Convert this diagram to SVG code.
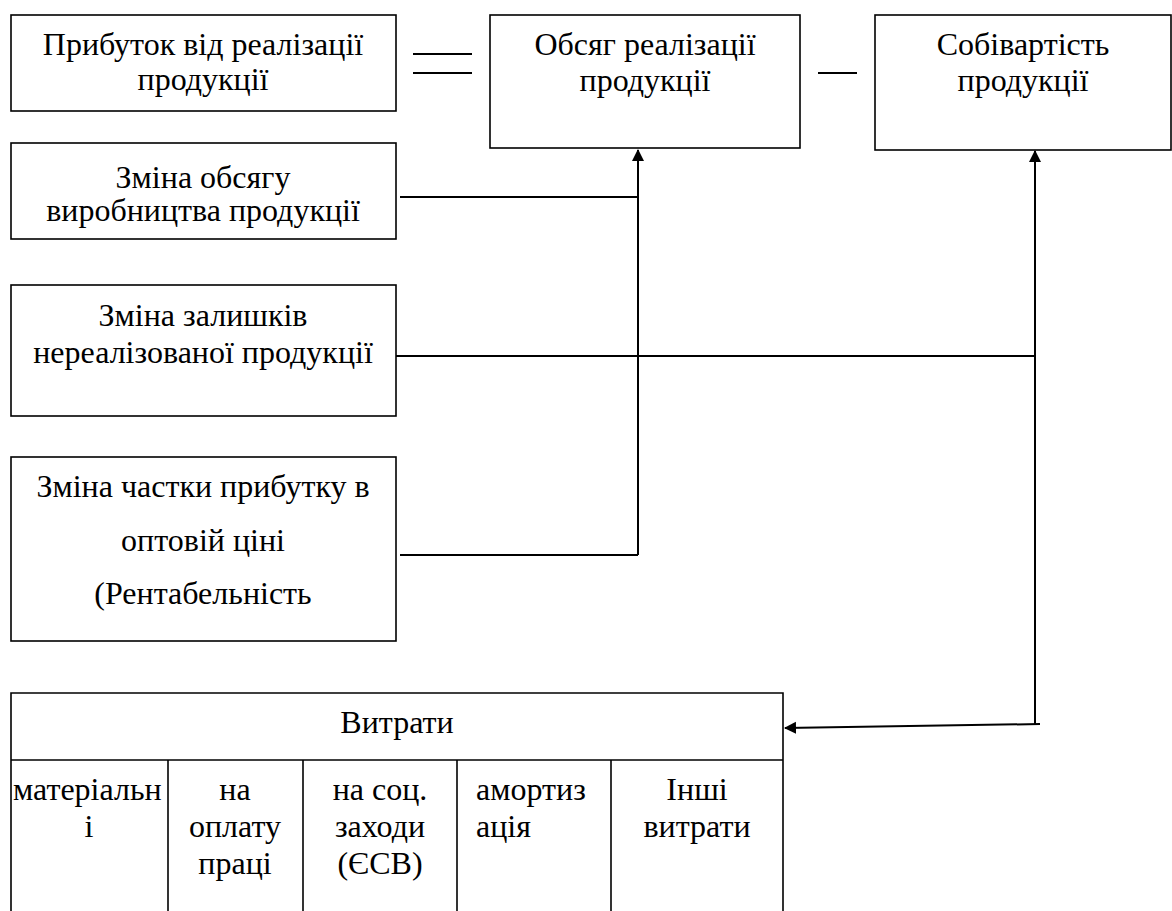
<svg xmlns="http://www.w3.org/2000/svg" width="1172" height="911" viewBox="0 0 1172 911">
<style>
.box{fill:#fff;stroke:#000;stroke-width:1.6}
.ln{stroke:#000;stroke-width:2;fill:none}
.gl{stroke:#000;stroke-width:1.6}
</style>
<defs>
<marker id="ah" markerWidth="12" markerHeight="14" refX="11" refY="7" orient="auto" markerUnits="userSpaceOnUse">
<path d="M0,1 L12,7 L0,13 Z" fill="#000"/>
</marker>
</defs>
<rect width="1172" height="911" fill="#fff"/>
<g id="n_prybutok">
<rect class="box" x="11" y="15" width="385" height="96"/>
<text font-family="Liberation Serif" font-size="32" text-anchor="middle" x="203" y="55">Прибуток від реалізації</text>
<text font-family="Liberation Serif" font-size="32" text-anchor="middle" x="203" y="90">продукції</text>
</g>
<g id="n_obsyag">
<rect class="box" x="490" y="15" width="310" height="133"/>
<text font-family="Liberation Serif" font-size="32" text-anchor="middle" x="645" y="55">Обсяг реалізації</text>
<text font-family="Liberation Serif" font-size="32" text-anchor="middle" x="645" y="91">продукції</text>
</g>
<g id="n_sobivartist">
<rect class="box" x="875" y="15" width="296" height="135"/>
<text font-family="Liberation Serif" font-size="32" text-anchor="middle" x="1023" y="55">Собівартість</text>
<text font-family="Liberation Serif" font-size="32" text-anchor="middle" x="1023" y="91">продукції</text>
</g>
<g id="n_zmina_obsyagu">
<rect class="box" x="11" y="143" width="385" height="96"/>
<text font-family="Liberation Serif" font-size="32" text-anchor="middle" x="203" y="188">Зміна обсягу</text>
<text font-family="Liberation Serif" font-size="32" text-anchor="middle" x="203" y="221">виробництва продукції</text>
</g>
<g id="n_zalyshky">
<rect class="box" x="11" y="285" width="385" height="131"/>
<text font-family="Liberation Serif" font-size="32" text-anchor="middle" x="203" y="326">Зміна залишків</text>
<text font-family="Liberation Serif" font-size="32" text-anchor="middle" x="203" y="363">нереалізованої продукції</text>
</g>
<g id="n_chastka">
<rect class="box" x="11" y="457" width="385" height="184"/>
<text font-family="Liberation Serif" font-size="32" text-anchor="middle" x="203" y="497">Зміна частки прибутку в</text>
<text font-family="Liberation Serif" font-size="32" text-anchor="middle" x="203" y="551">оптовій ціні</text>
<text font-family="Liberation Serif" font-size="32" text-anchor="middle" x="203" y="604">(Рентабельність</text>
</g>
<g id="n_vytraty">
<path class="box" d="M11,911 V693 H783 V911"/>
<line class="gl" x1="11" y1="760" x2="783" y2="760"/>
<line class="gl" x1="168" y1="760" x2="168" y2="911"/>
<line class="gl" x1="303" y1="760" x2="303" y2="911"/>
<line class="gl" x1="457" y1="760" x2="457" y2="911"/>
<line class="gl" x1="611" y1="760" x2="611" y2="911"/>
<text font-family="Liberation Serif" font-size="32" text-anchor="middle" x="397" y="733">Витрати</text>
<text font-family="Liberation Serif" font-size="32" x="13" y="800">матеріальн</text>
<text font-family="Liberation Serif" font-size="32" text-anchor="middle" x="89" y="837">і</text>
<text font-family="Liberation Serif" font-size="32" text-anchor="middle" x="235" y="800">на</text>
<text font-family="Liberation Serif" font-size="32" text-anchor="middle" x="235" y="837">оплату</text>
<text font-family="Liberation Serif" font-size="32" text-anchor="middle" x="235" y="874">праці</text>
<text font-family="Liberation Serif" font-size="32" text-anchor="middle" x="380" y="800">на соц.</text>
<text font-family="Liberation Serif" font-size="32" text-anchor="middle" x="380" y="837">заходи</text>
<text font-family="Liberation Serif" font-size="32" text-anchor="middle" x="380" y="874">(ЄСВ)</text>
<text font-family="Liberation Serif" font-size="32" x="476" y="800">амортиз</text>
<text font-family="Liberation Serif" font-size="32" x="476" y="837">ація</text>
<text font-family="Liberation Serif" font-size="32" text-anchor="middle" x="697" y="800">Інші</text>
<text font-family="Liberation Serif" font-size="32" text-anchor="middle" x="697" y="837">витрати</text>
</g>
<g id="connectors">
<line class="ln" x1="413" y1="54" x2="472" y2="54"/>
<line class="ln" x1="413" y1="73" x2="472" y2="73"/>
<line class="ln" x1="818" y1="73" x2="857" y2="73"/>
<line class="ln" x1="400" y1="197" x2="638" y2="197"/>
<line class="ln" x1="400" y1="555" x2="638" y2="555" stroke-width="3"/>
<line class="ln" x1="638" y1="555" x2="638" y2="150" marker-end="url(#ah)"/>
<line class="ln" x1="396" y1="356" x2="1035" y2="356"/>
<line class="ln" x1="1035" y1="724" x2="1035" y2="151" marker-end="url(#ah)"/>
<line class="ln" x1="1040" y1="724" x2="785" y2="728" marker-end="url(#ah)"/>
</g>
</svg>
